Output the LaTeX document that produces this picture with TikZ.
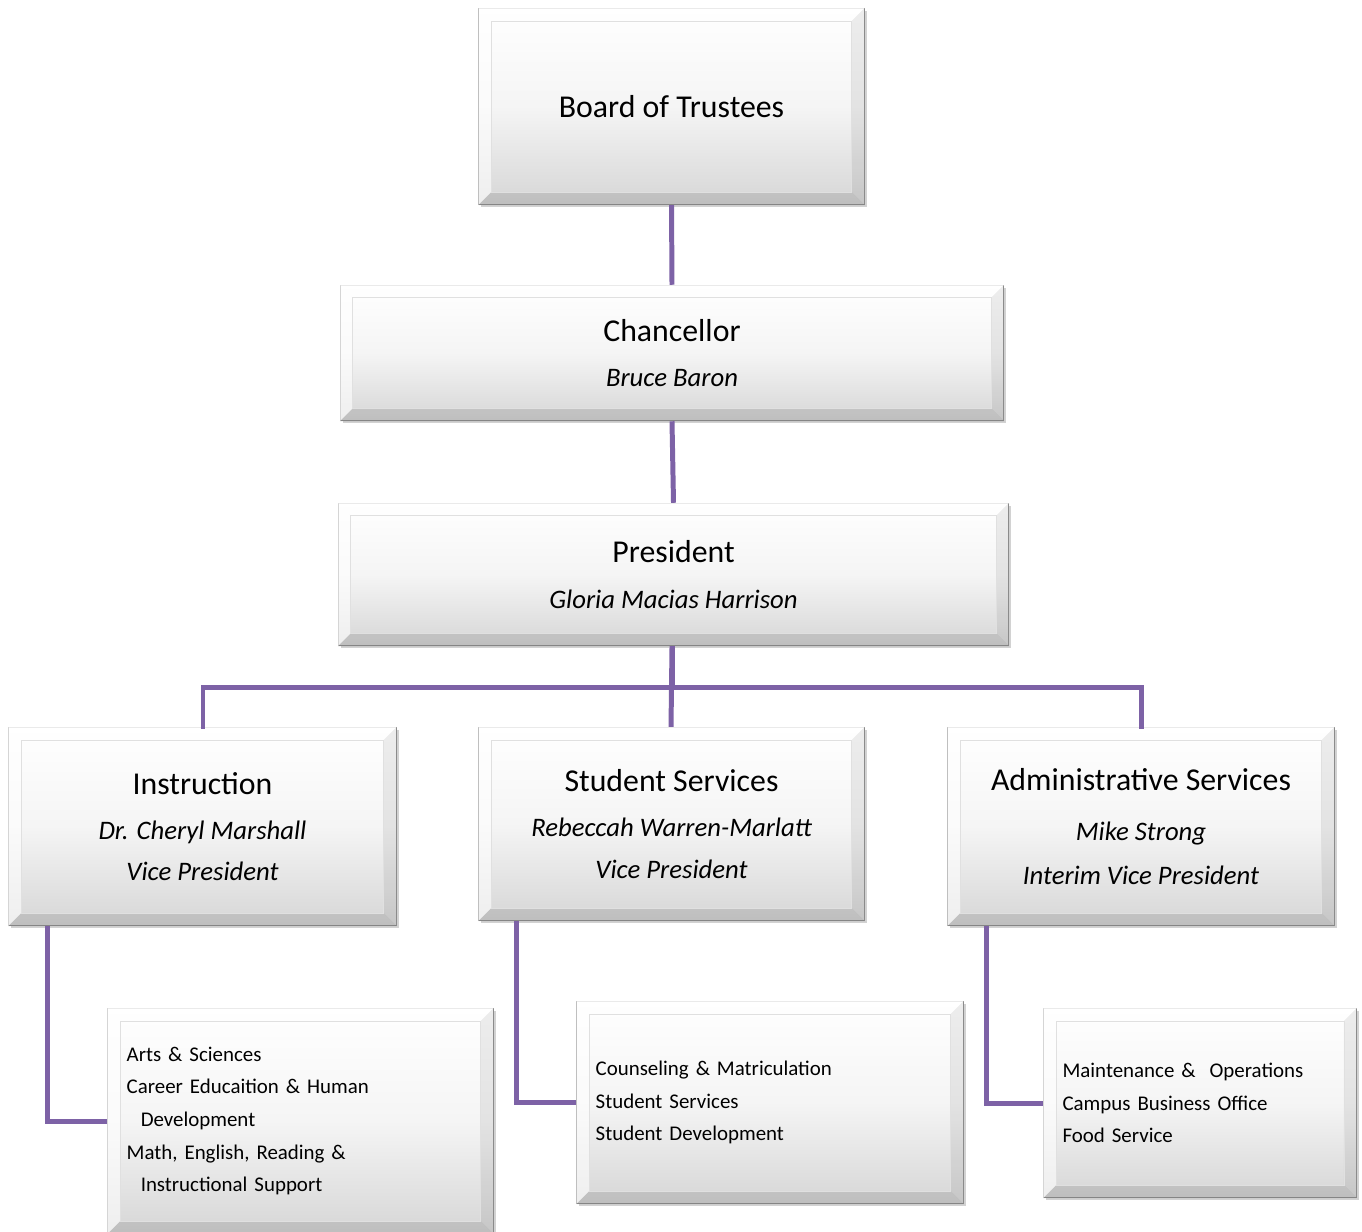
\documentclass[tikz,border=0pt]{standalone}
\usepackage{fontspec}
\setmainfont{Carlito}
\usetikzlibrary{shadows}
\definecolor{orgline}{RGB}{125,98,166}
\definecolor{boxedge}{RGB}{150,150,150}

\newcommand{\namefont}{\fontsize{15.2pt}{16pt}\selectfont\itshape}

\tikzset{
    unitbox/.style={draw=boxedge, line width=0.6pt, top color=white, bottom color=black!16,
        middle color=black!4, inner sep=0pt, align=center,
        drop shadow={opacity=0.35, shadow xshift=1.5pt, shadow yshift=-1.5pt}},
    subbox/.style={unitbox, align=left, inner xsep=19*0.5669pt},
    link/.style={orgline, line width=5*0.5669pt},
    titlefont/.style={font=\fontsize{18.1pt}{19pt}\selectfont},
    subfont/.style={font=\fontsize{11.9pt}{18.6pt}\selectfont\frenchspacing},
}
% bevel round a box, b = width of the bevel in px
\newcommand{\bevelbox}[2]{
    \fill[white, opacity=0.8] (#1.north west) -- (#1.north east) -- ([shift={(-#2,#2)}]#1.north east) -- ([shift={(#2,#2)}]#1.north west) -- cycle;
    \fill[white, opacity=0.6] (#1.north west) -- (#1.south west) -- ([shift={(#2,-#2)}]#1.south west) -- ([shift={(#2,#2)}]#1.north west) -- cycle;
    \fill[black, opacity=0.07] (#1.north east) -- (#1.south east) -- ([shift={(-#2,-#2)}]#1.south east) -- ([shift={(-#2,#2)}]#1.north east) -- cycle;
    \fill[black, opacity=0.11] (#1.south west) -- (#1.south east) -- ([shift={(-#2,-#2)}]#1.south east) -- ([shift={(#2,-#2)}]#1.south west) -- cycle;
    \draw[black!12, line width=0.4pt] ([shift={(#2,#2)}]#1.north west) rectangle ([shift={(-#2,-#2)}]#1.south east);
}

\begin{document}
\begin{tikzpicture}[x=0.02cm, y=-0.02cm]
    \useasboundingbox[fill=white] (0,0) rectangle (1362,1231);

    % top of the chart
    \node[unitbox, titlefont, minimum width=387*0.5669pt, minimum height=197*0.5669pt] (board) at (671.5,106.5) {Board of Trustees};
    \node[unitbox, titlefont, minimum width=666*0.5669pt, minimum height=136*0.5669pt] (chan) at (672,353)
        {Chancellor\\[7pt]\namefont Bruce Baron};
    \node[unitbox, titlefont, minimum width=673*0.5669pt, minimum height=143*0.5669pt] (pres) at (673.5,574.5)
        {President\\[7pt]\namefont Gloria Macias Harrison};

    % vice presidents
    \node[unitbox, titlefont, minimum width=389*0.5669pt, minimum height=199*0.5669pt] (instr) at (202.5,826.5)
        {Instruction\\[6.5pt]\namefont Dr. Cheryl Marshall\\[4.5pt]\namefont Vice President};
    \node[unitbox, titlefont, minimum width=387*0.5669pt, minimum height=194*0.5669pt] (stud) at (671.5,824)
        {Student Services\\[6.5pt]\namefont Rebeccah Warren-Marlatt\\[4.5pt]\namefont Vice President};
    \node[unitbox, titlefont, minimum width=388*0.5669pt, minimum height=199*0.5669pt] (admin) at (1141,826.5)
        {Administrative Services\\[9pt]\namefont Mike Strong\\[6pt]\namefont Interim Vice President};

    % departments
    \node[subbox, subfont, text width=349*0.5669pt, minimum height=226*0.5669pt] (instrsub) at (300.5,1121)
        {Arts \& Sciences\\Career Educaition \& Human\\\hspace{8pt}Development\\Math, English, Reading \&\\\hspace{8pt}Instructional Support};
    \node[subbox, subfont, text width=350*0.5669pt, minimum height=203*0.5669pt] (studsub) at (770,1102.5)
        {Counseling \& Matriculation\\Student Services\\Student Development};
    \node[subbox, subfont, text width=276*0.5669pt, minimum height=190*0.5669pt] (adminsub) at (1200,1103)
        {Maintenance \&\ \ Operations\\Campus Business Office\\Food Service};

    \foreach \n in {board,chan,pres,instr,stud,admin,instrsub,studsub,adminsub} {
        \bevelbox{\n}{13}
    }

    % connectors
    \draw[link] (board.south) -- (chan.north);
    \draw[link] (chan.south) -- (pres.north);
    \draw[link] ([xshift=-1.5*0.5669pt]pres.south) -- ++(0,41) coordinate (bus);
    \draw[link, line cap=rect] (bus) -| ([xshift=0.5*0.5669pt]instr.north);
    \draw[link] ([xshift=-1.5*0.5669pt]pres.south) -- ([xshift=-0.5*0.5669pt]stud.north);
    \draw[link, line cap=rect] (bus) -| (admin.north);
    \draw[link] ([xshift=39*0.5669pt]instr.south west) |- (instrsub.west);
    \draw[link] ([xshift=38*0.5669pt]stud.south west) |- (studsub.west);
    \draw[link] ([xshift=39*0.5669pt]admin.south west) |- (adminsub.west);
\end{tikzpicture}
\end{document}
